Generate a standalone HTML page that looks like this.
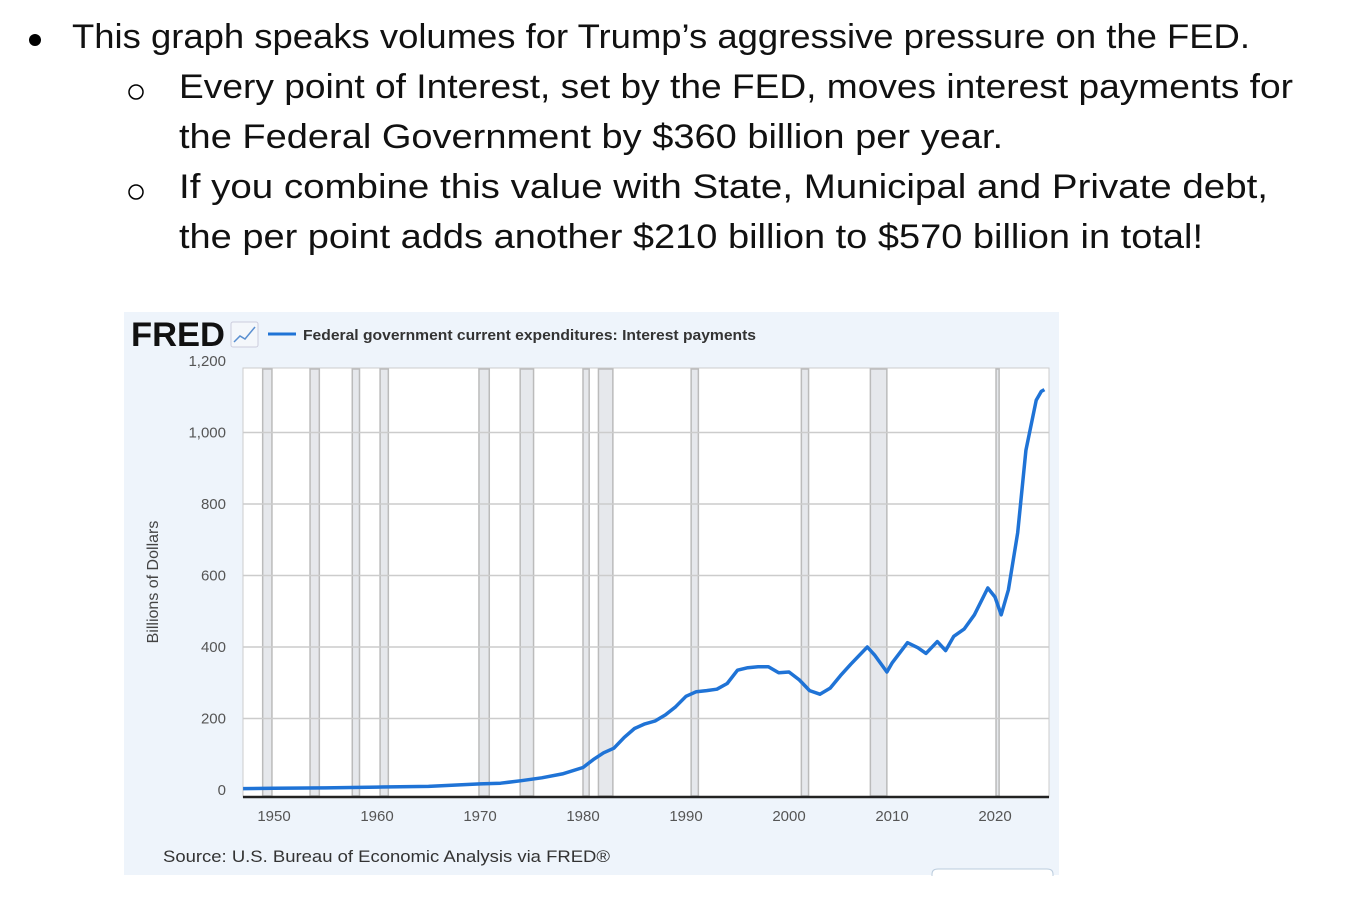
<!DOCTYPE html>
<html><head><meta charset="utf-8"><style>
html,body{margin:0;padding:0;background:#fff;}
svg{display:block;font-family:"Liberation Sans",sans-serif;}
</style></head><body>
<svg id="page" width="1353" height="924" viewBox="0 0 1353 924">
<g fill="#111" font-size="34">
<circle cx="35" cy="40" r="6" fill="#000"/>
<text x="72" y="48" textLength="1178" lengthAdjust="spacingAndGlyphs">This graph speaks volumes for Trump’s aggressive pressure on the FED.</text>
<circle cx="136" cy="92" r="7" fill="none" stroke="#000" stroke-width="1.5"/>
<text x="179" y="98" textLength="1114" lengthAdjust="spacingAndGlyphs">Every point of Interest, set by the FED, moves interest payments for</text>
<text x="179" y="148" textLength="824" lengthAdjust="spacingAndGlyphs">the Federal Government by $360 billion per year.</text>
<circle cx="136" cy="192" r="7" fill="none" stroke="#000" stroke-width="1.5"/>
<text x="179" y="198" textLength="1089" lengthAdjust="spacingAndGlyphs">If you combine this value with State, Municipal and Private debt,</text>
<text x="179" y="248" textLength="1024" lengthAdjust="spacingAndGlyphs">the per point adds another $210 billion to $570 billion in total!</text>
</g>
<g id="chart">
<rect x="124" y="312" width="935" height="563" fill="#eef4fb"/>
<text x="131" y="346" font-size="34" font-weight="bold" fill="#111" textLength="94" lengthAdjust="spacingAndGlyphs">FRED</text>
<g><rect x="231" y="322" width="27" height="25" fill="#f4f7fb" stroke="#ccd" rx="2"/><polyline points="234,342 240,336 245,339 255,327" fill="none" stroke="#5a8fd0" stroke-width="1.5"/></g>
<line x1="268" y1="334" x2="296" y2="334" stroke="#1f73d6" stroke-width="3"/>
<text x="303" y="340" font-size="15" font-weight="bold" fill="#333" textLength="453" lengthAdjust="spacingAndGlyphs">Federal government current expenditures: Interest payments</text>
<rect x="243" y="368" width="806" height="429" fill="#fff" stroke="#ccc"/>
<g id="rec"></g><g id="grid"></g><g id="yt"></g><g id="xt"></g>
<line x1="243" y1="797" x2="1049" y2="797" stroke="#222" stroke-width="2.5"/>
<path id="line" fill="none" stroke="#1f73d6" stroke-width="3.5" stroke-linejoin="round"/>
<text transform="translate(158,582) rotate(-90)" text-anchor="middle" font-size="16" fill="#444">Billions of Dollars</text>
<text x="163" y="862" font-size="17" fill="#333" textLength="447" lengthAdjust="spacingAndGlyphs">Source: U.S. Bureau of Economic Analysis via FRED®</text>
<path d="M932,876 L932,874 Q932,869 938,869 L1047,869 Q1053,869 1053,874 L1053,876" fill="#fff" stroke="#bcd"/>
</g>
</svg>
<script>
const years=[1947,1950,1955,1960,1965,1970,1972,1974,1976,1978,1980,1981,1982,1983,1984,1985,1986,1987,1988,1989,1990,1991,1992,1993,1994,1995,1996,1997,1998,1999,2000,2001,2002,2003,2004,2005,2006,2007.6,2008.3,2009.5,2010,2011.5,2012.5,2013.3,2014.4,2015.2,2016,2017,2018,2019.3,2020,2020.6,2021.3,2022.2,2023,2024,2024.5,2024.8];
const values=[4,5,6,8,10,17,19,26,34,45,63,85,104,117,147,172,185,193,210,233,262,275,278,282,298,335,342,345,345,328,330,308,278,268,285,320,352,400,378,330,355,412,398,382,415,390,430,450,490,565,540,490,560,720,950,1090,1115,1120];
const yTicks=[0,200,400,600,800,1000,1200];
const yLabels=["0","200","400","600","800","1,000","1,200"];
const xTicks=[1950,1960,1970,1980,1990,2000,2010,2020];
const recStart=[1948.9,1953.5,1957.6,1960.3,1969.9,1973.9,1980.0,1981.5,1990.5,2001.2,2007.9,2020.1];
const recEnd=[1949.8,1954.4,1958.3,1961.1,1970.9,1975.2,1980.6,1982.9,1991.2,2001.9,2009.5,2020.4];
const NS="http://www.w3.org/2000/svg";
const X=y=>274+(y-1950)*10.3;
const Y=v=>790-v*0.3575;
function mk(t,a,p){const e=document.createElementNS(NS,t);for(const k in a)e.setAttribute(k,a[k]);document.getElementById(p).appendChild(e);return e;}
recStart.forEach((s,i)=>{const r=mk('rect',{x:X(s),y:369,width:X(recEnd[i])-X(s),height:427,fill:'#e6e8ec',stroke:'#bbb','stroke-width':1.5},'rec');

});
yTicks.forEach((v,i)=>{if(v>0&&v<1200){const l=mk('line',{x1:243,x2:1049,y1:Y(v),y2:Y(v),stroke:'#ccc','stroke-width':1.5},'grid');

}
const t=mk('text',{x:226,y:Y(v)+5,'text-anchor':'end','font-size':15,fill:'#555'},'yt');t.textContent=yLabels[i];

});
xTicks.forEach(v=>{const t=mk('text',{x:X(v),y:821,'text-anchor':'middle','font-size':15,fill:'#555'},'xt');t.textContent=v;

});
let d='';years.forEach((y,i)=>{d+=(i?'L':'M')+X(y).toFixed(1)+','+Y(values[i]).toFixed(1);});
document.getElementById('line').setAttribute('d',d);
</script>
</body></html>
